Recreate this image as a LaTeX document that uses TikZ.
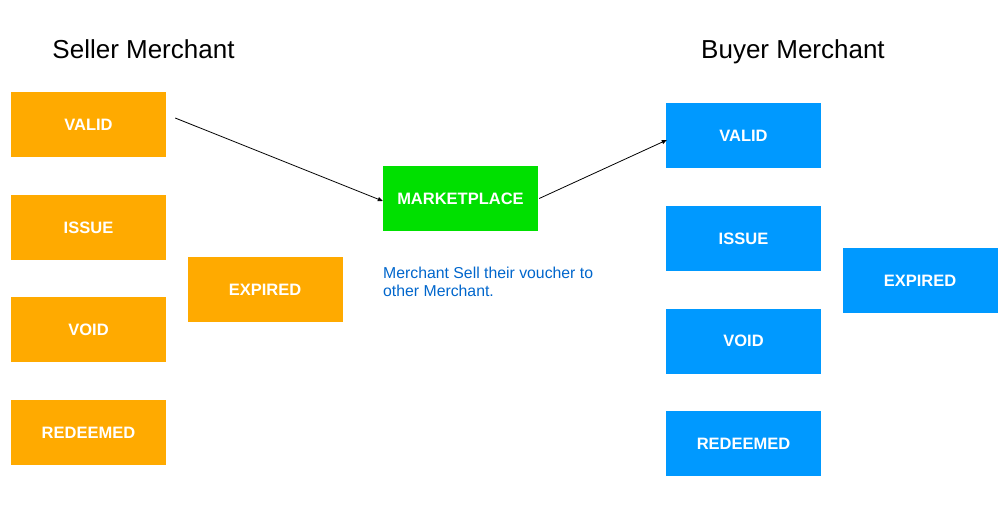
\documentclass[tikz,border=0pt]{standalone}
\usepackage{fontspec}
\setmainfont{Liberation Sans}
\usetikzlibrary{arrows.meta,calc}
\definecolor{orng}{HTML}{FFAA00}
\definecolor{blu}{HTML}{0099FF}
\definecolor{grn}{HTML}{00E000}
\definecolor{lbl}{HTML}{0066CC}
\tikzset{
  state/.style={minimum width=155pt, minimum height=65pt, inner sep=0pt, text=white, font=\fontsize{16.5}{19}\selectfont\bfseries},
  seller/.style={state, fill=orng},
  buyer/.style={state, fill=blu},
  market/.style={state, fill=grn},
  ttl/.style={font=\fontsize{26}{30}\selectfont, inner sep=0pt, anchor=base},
  conn/.style={-{Triangle[length=5pt,width=4pt]}, line width=0.8pt, black},
}
\begin{document}
\begin{tikzpicture}[x=1pt,y=-1pt]
\useasboundingbox (0,0) rectangle (1007,520);
\node[ttl] (st) at (143.5,58) {Seller Merchant};
\node[ttl] (bt) at (793,58) {Buyer Merchant};
\node[seller] (sv) at (88.5,124.5) {VALID};
\node[seller] (si) at (88.5,227.5) {ISSUE};
\node[seller] (so) at (88.5,329.5) {VOID};
\node[seller] (sr) at (88.5,432.5) {REDEEMED};
\node[seller] (se) at (265,289.5) {EXPIRED};
\node[market] (mk) at (460.5,198.5) {MARKETPLACE};
\node[buyer] (bv) at (743.5,135.5) {VALID};
\node[buyer] (bi) at (743.5,238.5) {ISSUE};
\node[buyer] (bo) at (743.5,341) {VOID};
\node[buyer] (br) at (743.5,443.5) {REDEEMED};
\node[buyer] (be) at (920,280.5) {EXPIRED};
\node[anchor=north west, align=left, text=lbl, inner sep=0pt, font=\fontsize{15.8}{18}\selectfont] (lb) at (383,267) {Merchant Sell their voucher to\\other Merchant.};
\coordinate (a1) at ($(sv.east)+(9,-6.5)$);
\coordinate (a2) at ($(mk.east)+(1,0)$);
\draw[conn] (a1) -- ($(mk.west)+(0,2.5)$);
\draw[conn] (a2) -- ($(bv.west)+(1,4.5)$);
\end{tikzpicture}
\end{document}
